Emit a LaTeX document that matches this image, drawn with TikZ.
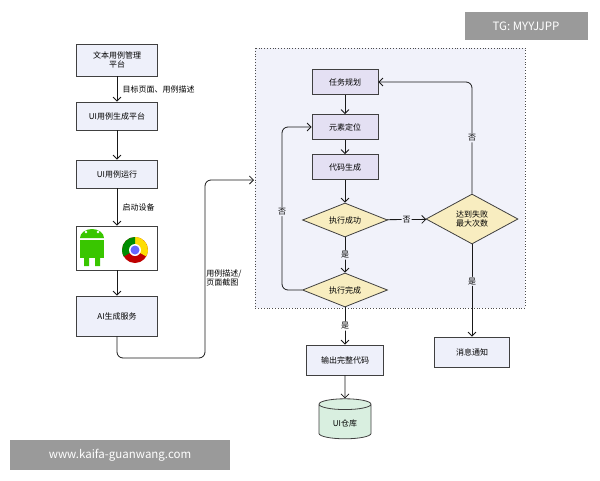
\documentclass[tikz,border=0pt]{standalone}
\usepackage{fontspec}
\setmainfont{Noto Sans CJK SC}
\usetikzlibrary{arrows.meta,positioning,shapes.geometric}
\definecolor{boxfill}{HTML}{EEF0FA}
\definecolor{stepfill}{HTML}{E4E0F3}
\definecolor{decfill}{HTML}{F8EDC0}
\definecolor{dbfill}{HTML}{D9EFE0}
\definecolor{areafill}{HTML}{F1F2FA}
\definecolor{wmgray}{HTML}{9A9A9A}
\begin{document}
\begin{tikzpicture}[
    x=1pt, y=-1pt,
    font=\fontsize{8}{9.5}\selectfont,
    >={Straight Barb[length=4pt,width=8pt]},
    flow/.style={draw=black!90, thick, ->, rounded corners=6pt},
    plain/.style={rectangle, draw=black!75, thick, fill=boxfill, minimum width=81pt, align=center},
    task/.style={rectangle, draw=black!75, thick, fill=stepfill, minimum width=66pt, minimum height=25pt},
    decision/.style={diamond, draw=black!75, thick, fill=decfill, aspect=2.5, inner sep=1pt, align=center},
    lbl/.style={fill=areafill, inner sep=1pt},
    wm/.style={fill=wmgray, text=white, font=\fontsize{11.5}{13}\selectfont, inner sep=0pt}]
\useasboundingbox (0,0) rectangle (600,480);
\fill[white] (0,0) rectangle (600,480);
% agent area
\draw[black!70, thick, dotted, fill=areafill] (255,48) rectangle (525,308);
% left column
\node[plain, minimum height=32pt] (case) at (117,60) {文本用例管理\\平台};
\node[plain, minimum height=28pt] (gen) at (117,116) {UI用例生成平台};
\node[plain, minimum height=28pt] (run) at (117,174) {UI用例运行};
\node[plain, minimum height=44pt, fill=white] (dev) at (117,248) {};
\node[plain, minimum height=40pt] (ai) at (117,316) {AI生成服务};
% device icons
\fill[green!55!olive] (80,240) rectangle (104,258);
\fill[green!55!olive] (80,238) arc (180:0:12pt and 9pt) -- cycle;
\fill[green!55!olive] (84,256) rectangle (89,266) (95,256) rectangle (100,266);
\fill[white] (86,232) circle (1.3pt) (98,232) circle (1.3pt);
\fill[red!75!black] (135,250) circle (13pt);
\fill[yellow!80!orange] (135,250) -- ++(-30:13pt) arc (-30:90:13pt) -- cycle;
\fill[green!55!black] (135,250) -- ++(90:13pt) arc (90:210:13pt) -- cycle;
\fill[white] (135,250) circle (6pt);
\fill[blue!60] (135,250) circle (4.5pt);
% right column
\node[task] (plan) at (345,82) {任务规划};
\node[task] (loc) at (345,127) {元素定位};
\node[task] (code) at (345,167) {代码生成};
\node[decision, minimum width=85pt, minimum height=34pt] (ok) at (345,220) {执行成功};
\node[decision, minimum width=85pt, minimum height=34pt] (done) at (345,290) {执行完成};
\node[decision, minimum width=92pt, minimum height=50pt] (max) at (472,219) {达到失败\\最大次数};
\node[plain, minimum width=77pt, minimum height=30pt] (out) at (345,360) {输出完整代码};
\node[plain, minimum width=75pt, minimum height=30pt] (msg) at (472,352) {消息通知};
\node[cylinder, shape border rotate=90, aspect=0.35, draw=black!75, thick, fill=dbfill,
      minimum width=52pt, minimum height=40pt] (repo) at (345,423) {UI仓库};
% connectors
\draw[flow] (case) -- node[right, xshift=2pt] {目标页面、用例描述} (gen);
\draw[flow] (gen) -- (run);
\draw[flow] (run) -- node[right, xshift=2pt] {启动设备} (dev);
\draw[flow] (dev) -- (ai);
\draw[flow] (ai.south) -- (117,358) -- (205,358) -- node[pos=0.45, right, align=left, inner sep=1pt] {用例描述/\\页面截图} (205,180) -- (254,180);
\draw[flow] (plan) -- (loc);
\draw[flow] (loc) -- (code);
\draw[flow] (code) -- (ok);
\draw[flow] (ok) -- node[lbl] {否} (max);
\draw[flow] (ok) -- node[lbl] {是} (done);
\draw[flow] (done.west) -- (282,290) -- node[lbl, pos=0.48] {否} (282,127) -- (loc.west);
\draw[flow] (max.north) -- node[lbl] {否} (472,82) -- (plan.east);
\draw[flow] (max.south) -- node[lbl, pos=0.4] {是} (msg.north);
\draw[flow] (done) -- node[fill=white, inner sep=1pt] {是} (out);
\draw[flow] (out) -- (repo);
% watermarks
\node[wm, minimum width=123pt, minimum height=28pt] (tg) at (526,26) {TG: MYYJJPP};
\node[wm, minimum width=220pt, minimum height=30pt] (site) at (120,455) {www.kaifa-guanwang.com};
\end{tikzpicture}
\end{document}
